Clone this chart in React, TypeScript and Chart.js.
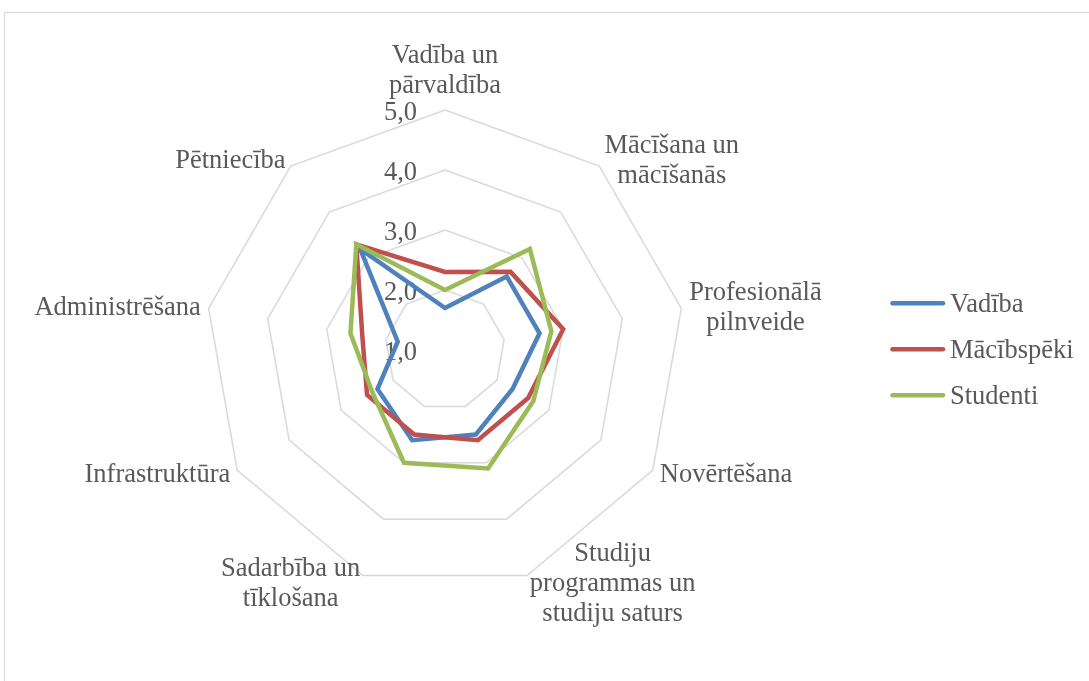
import React, { useEffect, useRef } from "react";
import { Chart, registerables } from "chart.js";

Chart.register(...registerables);

// ---- data ----
const CATEGORIES: string[][] = [
  ["Vadība un", "pārvaldība"],
  ["Mācīšana un", "mācīšanās"],
  ["Profesionālā", "pilnveide"],
  ["Novērtēšana"],
  ["Studiju", "programmas un", "studiju saturs"],
  ["Sadarbība un", "tīklošana"],
  ["Infrastruktūra"],
  ["Administrēšana"],
  ["Pētniecība"],
];
const SERIES_NAMES = ["Vadība", "Mācībspēki", "Studenti"];
const VADIBA = [1.7, 2.6, 2.6, 2.3, 2.5, 2.6, 2.3, 1.8, 3.2];
const MACIBSPEKI = [2.3, 2.7, 3.0, 2.6, 2.6, 2.5, 2.5, 2.4, 3.3];
const STUDENTI = [2.0, 3.2, 2.8, 2.7, 3.1, 3.0, 2.4, 2.6, 3.3];
const TICK_LABELS = ["1,0", "2,0", "3,0", "4,0", "5,0"];

// ---- styles ----
const COLORS = ["#4F81BD", "#C0504D", "#9BBB59"];
const FONT = "26.5px 'Liberation Serif', 'Times New Roman', serif";
const TEXT_COLOR = "#595959";
const LINE_H = 30;
const W = 1089;
const H = 681;

const framePlugin = {
  id: "frame",
  beforeDraw(chart: any) {
    const ctx = chart.ctx;
    ctx.save();
    ctx.fillStyle = "#ffffff";
    ctx.fillRect(0, 0, chart.width, chart.height);
    ctx.strokeStyle = "#d9d9d9";
    ctx.lineWidth = 1;
    ctx.strokeRect(4.5, 12.5, 3000, 3000);
    ctx.restore();
  },
};

const tickPlugin = {
  id: "tickLabels",
  beforeDatasetsDraw(chart: any) {
    const scale = chart.scales.r;
    const ctx = chart.ctx;
    ctx.save();
    ctx.font = FONT;
    ctx.fillStyle = TEXT_COLOR;
    ctx.textAlign = "right";
    ctx.textBaseline = "alphabetic";
    scale.ticks.forEach((t: any, i: number) => {
      const r = scale.getDistanceFromCenterForValue(t.value);
      ctx.fillText(TICK_LABELS[i] ?? String(t.value), scale.xCenter - 28, scale.yCenter - r + 10);
    });
    ctx.restore();
  },
};

const pointLabelPlugin = {
  id: "pointLabels",
  afterDatasetsDraw(chart: any) {
    const scale = chart.scales.r;
    const ctx = chart.ctx;
    ctx.save();
    ctx.font = FONT;
    ctx.fillStyle = TEXT_COLOR;
    ctx.textBaseline = "alphabetic";
    ctx.textAlign = "center";
    CATEGORIES.forEach((lines, i) => {
      const angle = scale.getIndexAngle(i);
      const s = Math.sin(angle);
      const c = Math.cos(angle);
      const p = scale.getPointPosition(i, scale.drawingArea + 8);
      const maxW = Math.max(...lines.map((l) => ctx.measureText(l).width));
      let cx = p.x;
      if (s > 0.05) cx = p.x + maxW / 2;
      else if (s < -0.05) cx = p.x - maxW / 2;
      const n = lines.length;
      const meanBase = c > 0.95 ? p.y - 8.7 - ((n - 1) / 2) * LINE_H : p.y + 8;
      lines.forEach((l, j) => {
        ctx.fillText(l, cx, meanBase + (j - (n - 1) / 2) * LINE_H);
      });
    });
    ctx.restore();
  },
};

const legendPlugin = {
  id: "customLegend",
  afterDraw(chart: any) {
    const ctx = chart.ctx;
    ctx.save();
    ctx.font = FONT;
    ctx.fillStyle = TEXT_COLOR;
    ctx.textAlign = "left";
    ctx.textBaseline = "alphabetic";
    const top = 303.3;
    const step = 46;
    chart.data.datasets.forEach((ds: any, i: number) => {
      const y = top + i * step;
      ctx.strokeStyle = ds.borderColor;
      ctx.lineWidth = 4.5;
      ctx.lineCap = "round";
      ctx.beginPath();
      ctx.moveTo(892.5, y);
      ctx.lineTo(943, y);
      ctx.stroke();
      ctx.fillStyle = TEXT_COLOR;
      ctx.fillText(ds.label, 950, y + 9);
    });
    ctx.restore();
  },
};

export default function App() {
  const ref = useRef<HTMLCanvasElement | null>(null);

  useEffect(() => {
    if (!ref.current) return;
    const series = [VADIBA, MACIBSPEKI, STUDENTI];
    const chart = new Chart(ref.current, {
      type: "radar",
      data: {
        labels: CATEGORIES,
        datasets: series.map((d, i) => ({
          label: SERIES_NAMES[i],
          data: d,
          borderColor: COLORS[i],
          backgroundColor: "rgba(0,0,0,0)",
          borderWidth: 4.5,
          fill: false,
          pointRadius: 0,
          pointHoverRadius: 0,
          tension: 0,
          borderJoinStyle: "miter" as CanvasLineJoin,
          order: 3 - i,
        })),
      },
      options: {
        responsive: false,
        animation: false,
        events: [],
        layout: { padding: { left: 205, top: 110, right: 404, bottom: 91 } },
        plugins: {
          legend: { display: false },
          tooltip: { enabled: false },
        },
        scales: {
          r: {
            min: 1,
            max: 5,
            ticks: { display: false, stepSize: 1 },
            pointLabels: { display: false },
            angleLines: { display: false },
            grid: { color: "#d9d9d9", lineWidth: 1.5 },
          },
        },
      },
      plugins: [framePlugin, tickPlugin, pointLabelPlugin, legendPlugin],
    });
    return () => chart.destroy();
  }, []);

  return (
    <div
      style={{
        position: "fixed",
        left: 0,
        top: 0,
        width: W,
        height: H,
        overflow: "hidden",
        background: "#ffffff",
      }}
    >
      <canvas ref={ref} width={W} height={H} style={{ display: "block", width: W, height: H }} />
    </div>
  );
}
